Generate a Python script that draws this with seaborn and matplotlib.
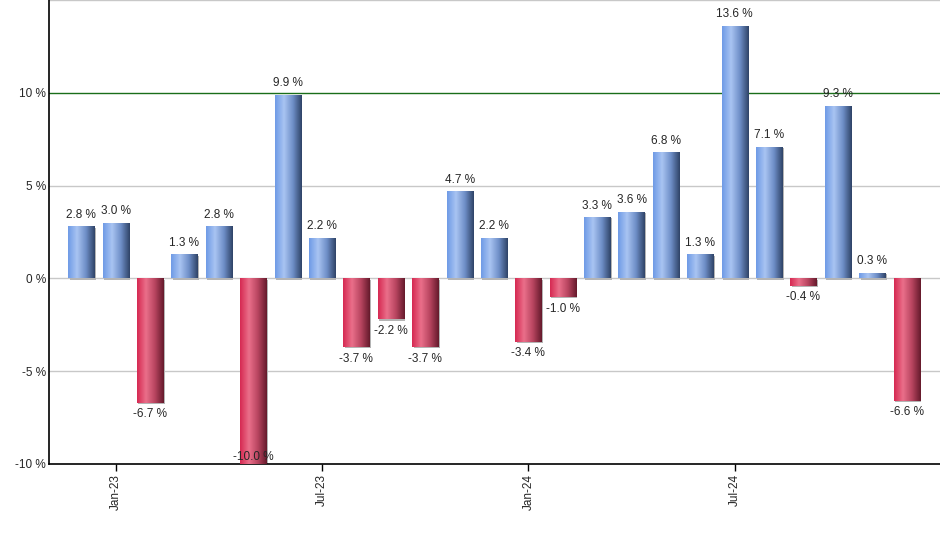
import numpy as np
import pandas as pd
import matplotlib
matplotlib.use('Agg')
import matplotlib.pyplot as plt
import seaborn as sns
from matplotlib.colors import LinearSegmentedColormap
from matplotlib.patches import Rectangle

# monthly returns in %, Dec-22 .. Dec-24
months = ['Dec-22', 'Jan-23', 'Feb-23', 'Mar-23', 'Apr-23', 'May-23', 'Jun-23',
          'Jul-23', 'Aug-23', 'Sep-23', 'Oct-23', 'Nov-23', 'Dec-23',
          'Jan-24', 'Feb-24', 'Mar-24', 'Apr-24', 'May-24', 'Jun-24',
          'Jul-24', 'Aug-24', 'Sep-24', 'Oct-24', 'Nov-24', 'Dec-24']
returns = [2.8, 3.0, -6.7, 1.3, 2.8, -10.0, 9.9, 2.2, -3.7, -2.2, -3.7, 4.7, 2.2,
           -3.4, -1.0, 3.3, 3.6, 6.8, 1.3, 13.6, 7.1, -0.4, 9.3, 0.3, -6.6]
shown_ticks = ['Jan-23', 'Jul-23', 'Jan-24', 'Jul-24']
y_ticks = [-10, -5, 0, 5, 10]

df = pd.DataFrame({'month': months, 'ret': returns})

sns.set_style('white')
plt.rcParams['font.family'] = ['Liberation Sans', 'DejaVu Sans']

fig = plt.figure(figsize=(9.4, 5.5), dpi=100)
ax = fig.add_axes([49 / 940, 86 / 550, 1 - 49 / 940, 1 - 86 / 550])

sns.barplot(data=df, x='month', y='ret', width=0.76, color='white', ax=ax, zorder=3)

blue = LinearSegmentedColormap.from_list('b', ['#6f9be6', '#a9c4f2', '#6f8fc8', '#2f4468'])
red = LinearSegmentedColormap.from_list('r', ['#d62a52', '#ea6f8a', '#b84560', '#661a2c'])
grad = np.linspace(0, 1, 64).reshape(1, -1)
ymin, ymax = -10, 15

for patch, val in zip(ax.patches, df['ret']):
    x0, y0 = patch.get_x(), patch.get_y()
    w, h = patch.get_width(), patch.get_height()
    lo, hi = min(y0, y0 + h), max(y0, y0 + h)
    # soft shadow on the right side / lower end
    sh = Rectangle((x0 + 0.04, lo - 0.07), w, hi - lo, color='#b4b4b4', zorder=2.5, lw=0)
    ax.add_patch(sh)
    patch.set_facecolor('none')
    patch.set_edgecolor('none')
    im = ax.imshow(grad, cmap=blue if val >= 0 else red, aspect='auto',
                   extent=(x0, x0 + w, lo, hi), zorder=3, interpolation='bilinear')
    im.set_clip_path(patch)
    cx = x0 + w / 2
    txt = f'{val:.1f} %'
    if val >= 0:
        ax.annotate(txt, (cx, hi), xytext=(0, 4), textcoords='offset points',
                    ha='center', va='bottom', fontsize=8.5, zorder=5)
    elif lo - 1.2 < ymin:
        # no room below: keep it inside the plot area
        ax.annotate(txt, (cx, ymin), xytext=(0, 1), textcoords='offset points',
                    ha='center', va='bottom', fontsize=8.5, zorder=5)
    else:
        ax.annotate(txt, (cx, lo), xytext=(0, -4), textcoords='offset points',
                    ha='center', va='top', fontsize=8.5, zorder=5)

ax.set_xlim(-0.94, 24.97)
ax.set_ylim(ymin, ymax)

for yv in [-5, 0, 5, 15]:
    ax.axhline(yv, color='#c8c8c8', lw=1, zorder=1)
ax.axhline(10, color='#1a6e1a', lw=1, zorder=1)

ax.set_yticks(y_ticks)
ax.set_yticklabels([f'{v} %' for v in y_ticks], fontsize=8.5)
tick_pos = [months.index(m) for m in shown_ticks]
ax.set_xticks(tick_pos)
ax.set_xticklabels(shown_ticks, rotation=90, fontsize=8.5)
ax.tick_params(axis='x', bottom=True, direction='out', length=5, width=1, color='black', pad=2)
ax.tick_params(axis='y', left=False, length=0, pad=2)
ax.set_xlabel('')
ax.set_ylabel('')

for s in ['top', 'right']:
    ax.spines[s].set_visible(False)
for s in ['left', 'bottom']:
    ax.spines[s].set_color('black')
    ax.spines[s].set_linewidth(1.2)

fig.savefig('out.png', dpi=100)
